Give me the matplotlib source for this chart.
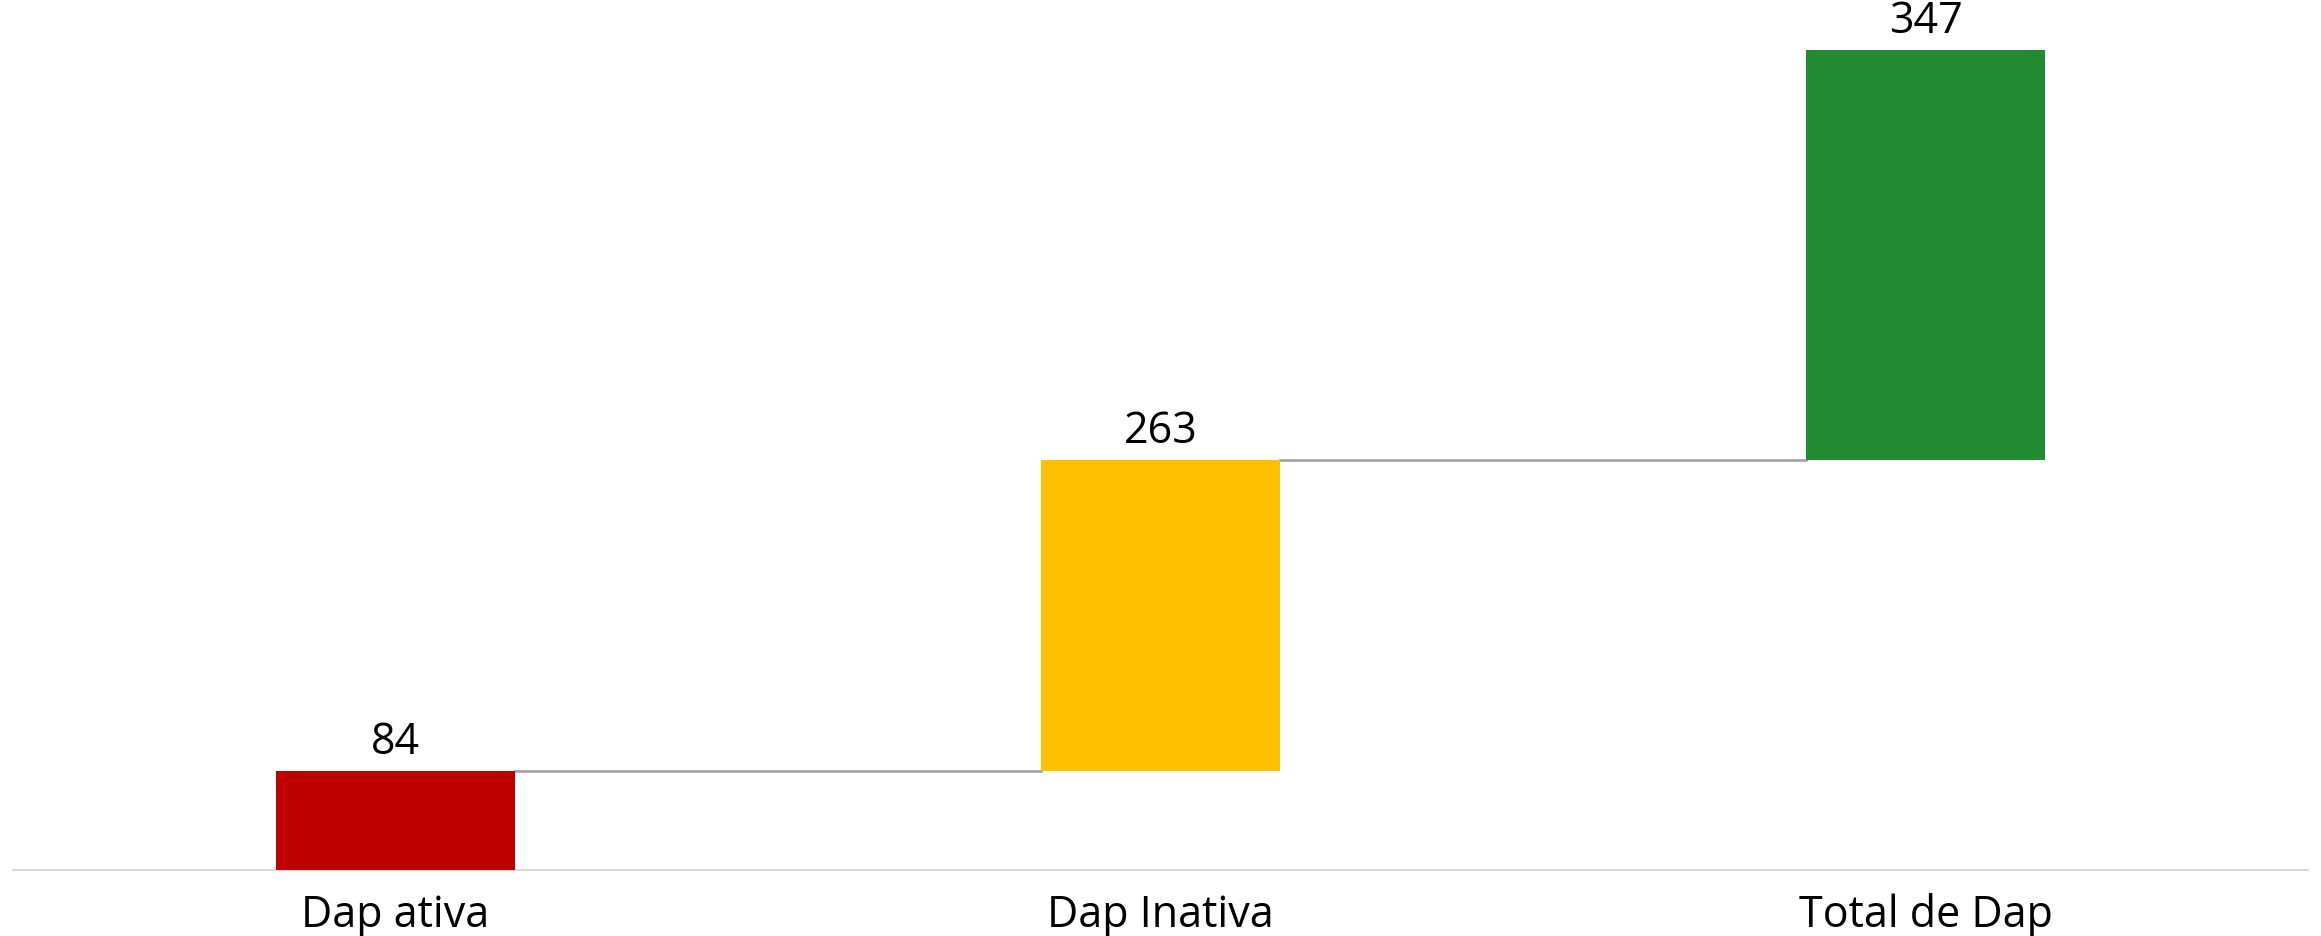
import matplotlib.pyplot as plt
import numpy as np
import matplotlib

matplotlib.rcParams['font.family'] = ['Open Sans', 'DejaVu Sans']

# data
categories = ['Dap ativa', 'Dap Inativa', 'Total de Dap']
values = [84, 263, 347]
colors = ['#C00000', '#FFC000', '#228B32']

values = np.array(values)
tops = np.cumsum(values)
bottoms = tops - values
x = np.arange(len(categories))
bar_w = 0.3125

fig = plt.figure(figsize=(23.21, 9.37), dpi=100)
ax = fig.add_axes([13 / 2321, 66 / 937, 2295 / 2321, 863 / 937])

ax.bar(x, values, bottom=bottoms, width=bar_w, color=colors, zorder=3)

# connector lines between bars
for i in range(len(x) - 1):
    ax.plot(
        [x[i] + bar_w / 2, x[i + 1] - bar_w / 2],
        [tops[i], tops[i]],
        color='#A6A6A6',
        lw=2,
        zorder=2,
    )

# value labels
for xi, top, v in zip(x, tops, values):
    ax.annotate(
        f'{v}',
        (xi, top),
        xytext=(0, 5),
        textcoords='offset points',
        ha='center',
        va='bottom',
        fontsize=31,
        color='#000000',
    )

ax.set_xlim(-0.5, 2.5)
ax.set_ylim(0, 730)
ax.set_xticks(x)
ax.set_xticklabels(categories, fontsize=31)
ax.tick_params(axis='x', length=0, pad=16)
ax.set_yticks([])

for side in ['top', 'right', 'left']:
    ax.spines[side].set_visible(False)
ax.spines['bottom'].set_color('#D9D9D9')
ax.spines['bottom'].set_linewidth(1.5)

plt.savefig('out.png', dpi=100)
